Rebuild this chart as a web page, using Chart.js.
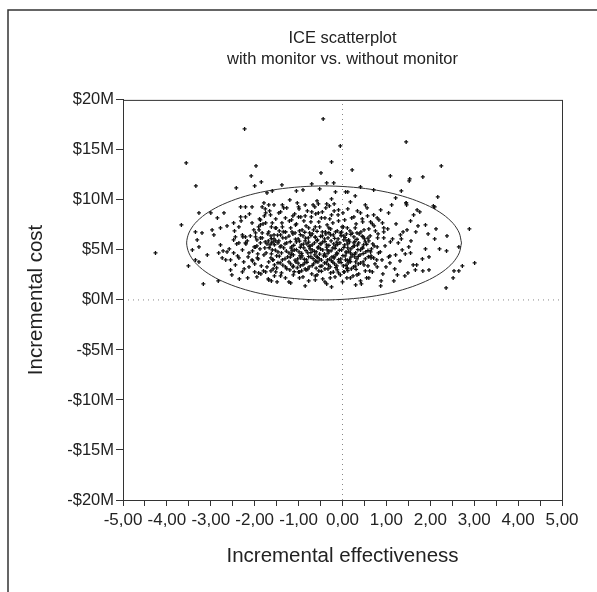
<!DOCTYPE html>
<html lang="en">
<head>
    <meta charset="UTF-8">
    <title>ICE scatterplot</title>
    <script src="https://cdn.jsdelivr.net/npm/chart.js"></script>
    <style>
        html, body { margin: 0; padding: 0; background: #fff; }
        #wrap { width: 597px; height: 592px; }
    </style>
</head>
<body>

<div id="wrap"><canvas id="iceChart" width="597" height="592"></canvas></div>

<script>
    // incremental effectiveness / incremental cost ($M)
    const effX = [
        // outliers above and around the ellipse
        -2.23, -0.44, -0.05, -3.56, -1.97, -0.25, -2.08, -1.85, -0.49, -3.34, -2.42, -2.00, -1.38, -0.70, -0.36, -0.20,
        -0.90, -1.05, -0.52, -1.60, -1.72, -0.16,
        1.45, 2.25, 0.22, 1.09, 1.52, 1.53, 1.83, 1.34, 2.17, 0.29, 0.07, 0.12, 1.21, 1.45, 1.46, 2.10, 0.41, 0.71,
        -4.26, -3.67, -3.51, -3.17, -2.83, -2.35,
        2.89, 3.01, 2.73, 2.54, 2.65, 2.52, 2.36, 0.87, 1.17, 0.43, 2.07,
        // right half
        2.65, 2.38, 2.13, 2.10, 2.37, 2.21, 1.95, 1.89, 1.97, 1.82, 1.69, 1.97, 1.83, 1.66, 1.42, 1.25,
        1.12, 1.45, 1.70, 1.76, 1.62, 1.55, 1.72, 1.67, 1.89, 1.47, 1.32, 1.34, 1.09, 0.94, 0.94, 0.94,
        1.36, 1.51, 1.55, 1.21, 1.05, 1.08, 0.90, 0.71, 0.79, 0.68, 0.60, 0.33, 0.18,
        0.41, 0.56, 0.71, 0.26, 0.52, 0.87, 1.05, 0.83, 0.64, 0.49, 0.33, 0.11, 0.03, 0.26, 0.45, 0.64,
        0.79, 0.18, 0.07, 0.30, 0.49, 0.11,
        // left half
        -3.27, -3.00, -2.70, -2.85, -3.35, -3.20, -2.97, -2.78, -2.93, -3.31, -3.42, -3.27, -3.35, -3.27,
        -3.08, -2.78, -2.82, -2.74, -2.66, -2.55, -2.55, -2.44, -2.63, -2.48, -2.48, -2.48, -2.36, -2.32,
        -2.21, -2.32, -2.21, -2.06, -2.28, -2.21, -2.44, -2.36, -2.21, -2.28, -2.13, -2.36, -2.25, -2.13,
        -2.28, -2.06, -2.02, -1.91, -1.87, -1.83, -1.79, -1.68, -1.56, -1.37, -1.34, -1.03, -1.00, -0.85,
        -0.67, -0.55, -0.36, -0.30, -0.19, -1.75, -1.64, -1.45, -1.30, -1.13, -1.00, -0.85, -0.70, -0.55,
        -0.40, -0.25, -0.09, -1.87, -1.75, -1.60, -1.53, -1.83, -1.68, -1.56, -1.37, -1.30, -1.15, -1.07,
        -0.92, -0.77, -0.62, -0.46, -0.31, -0.16, -0.01,
        -1.75, -1.63, -1.52, -1.68, -1.49, -1.22, -1.13, -0.98, -0.83, -0.62, -0.40, -0.28, -0.09, 0.03,
        -2.00, -1.91, -2.06, -1.94, -1.98, -1.87, -1.98, -1.87,
        // dense core
        -1.52, -1.21, -0.95, -0.72, -0.48, -0.22, 0.05, 0.31, -1.78, -0.61, -0.10, 0.45, -1.05, -0.35, -1.38,
        -1.90, -1.62, -1.44, -1.18, -0.98, -0.83, -0.66, -0.52, -0.39, -0.27, -0.12, 0.02, 0.17, 0.29, 0.42,
        0.60, -1.30, -0.75, -0.05, 0.75,
        -2.10, -1.83, -1.70, -1.56, -1.41, -1.29, -1.13, -1.01, -0.90, -0.78, -0.69, -0.57, -0.46, -0.33,
        -0.21, -0.10, 0.03, 0.14, 0.26, 0.38, 0.50, 0.63, 0.80, -1.95, -0.62, -0.38, 0.09,
        -2.20, -1.95, -1.76, -1.65, -1.52, -1.40, -1.27, -1.16, -1.05, -0.94, -0.85, -0.74, -0.64, -0.55,
        -0.45, -0.36, -0.26, -0.16, -0.06, 0.05, 0.16, 0.27, 0.37, 0.48, 0.60, 0.72, -1.69, -1.62, -1.72,
        -1.58, -0.81, -0.49, -0.20,
        -2.05, -1.88, -1.74, -1.60, -1.47, -1.34, -1.22, -1.10, -0.99, -0.88, -0.79, -0.69, -0.60, -0.50,
        -0.41, -0.31, -0.22, -0.13, -0.02, 0.08, 0.19, 0.30, 0.41, 0.53, 0.66, 0.82, -1.15, -0.74, -0.35, 0.12,
        -2.15, -1.92, -1.79, -1.63, -1.50, -1.37, -1.25, -1.12, -1.02, -0.92, -0.82, -0.72, -0.63, -0.53,
        -0.43, -0.34, -0.24, -0.15, -0.04, 0.06, 0.16, 0.28, 0.40, 0.52, 0.65, 0.78, -0.95, -0.58, -0.19, 0.22,
        -2.00, -1.85, -1.68, -1.55, -1.42, -1.30, -1.18, -1.06, -0.96, -0.86, -0.76, -0.66, -0.56, -0.47,
        -0.37, -0.28, -0.18, -0.08, 0.02, 0.13, 0.25, 0.36, 0.47, 0.58, -1.50, -0.62, -0.25,
        -1.80, -1.58, -1.39, -1.20, -1.00, -0.85, -0.70, -0.54, -0.40, -0.27, -0.12, 0.04, 0.20, 0.37, 0.52,
        -1.12, -0.62, -0.05, -1.30, -0.90, -0.45, 0.10
    ];
    const costY = [
        17.1, 18.1, 15.4, 13.7, 13.4, 13.8, 12.4, 11.8, 12.7, 11.4, 11.2, 11.4, 11.5, 11.6, 11.7, 11.7,
        11.0, 10.9, 11.1, 10.9, 10.7, 10.8,
        15.8, 13.4, 13.0, 12.4, 11.9, 12.1, 12.3, 10.9, 10.3, 10.4, 10.8, 10.8, 10.2, 9.7, 9.5, 9.3, 11.3, 11.0,
        4.7, 7.5, 3.4, 1.6, 1.9, 2.1,
        7.1, 3.7, 3.4, 2.9, 2.9, 2.2, 1.2, 1.4, 1.9, 1.6, 9.4,
        5.3, 6.4, 7.1, 6.1, 4.9, 5.1, 6.6, 5.1, 4.3, 4.1, 3.5, 3.0, 2.9, 3.0, 2.4, 2.5,
        9.5, 9.7, 9.0, 8.8, 8.5, 7.9, 7.4, 6.8, 7.5, 7.0, 6.5, 6.1, 5.8, 6.2, 7.2, 6.8,
        5.0, 5.3, 4.7, 4.5, 4.3, 3.7, 4.0, 4.2, 3.3, 2.8, 2.2, 2.5, 2.2,
        8.7, 9.2, 8.5, 8.3, 9.5, 9.0, 8.7, 8.0, 7.8, 7.0, 6.7, 7.2, 6.0, 5.7, 5.2, 4.8,
        5.3, 4.7, 4.0, 3.8, 3.5, 3.2,
        8.7, 8.7, 8.7, 8.2, 6.8, 6.7, 7.0, 7.2, 6.5, 6.0, 5.0, 5.3, 4.0, 3.8,
        4.5, 5.5, 4.7, 4.2, 4.0, 4.0, 3.0, 3.5, 4.8, 4.7, 6.0, 7.7, 7.3, 8.3,
        8.3, 9.3, 9.3, 9.3, 6.5, 6.3, 6.3, 5.7, 5.7, 5.0, 4.7, 4.2, 3.8, 3.3,
        2.8, 7.7, 7.0, 7.3, 8.0, 9.3, 9.7, 9.5, 9.5, 9.5, 9.2, 9.7, 9.3, 9.5,
        9.5, 9.6, 9.6, 9.4, 9.6, 8.7, 8.5, 8.7, 8.2, 8.4, 8.3, 8.4, 8.8, 8.7,
        8.2, 8.5, 9.0, 7.5, 7.7, 7.7, 7.2, 6.7, 6.8, 6.5, 7.3, 6.8, 6.8, 7.5,
        7.0, 7.2, 7.3, 6.8, 7.2, 6.8, 7.3,
        2.8, 2.9, 2.8, 2.0, 1.8, 1.8, 3.3, 2.8, 3.0, 2.0, 1.8, 2.2, 2.7, 2.8,
        2.8, 2.7, 4.0, 4.2, 5.3, 5.7, 6.3, 6.2,
        8.1, 7.9, 8.3, 7.8, 8.2, 7.7, 8.0, 7.6, 8.4, 8.6, 8.5, 8.1, 7.6, 7.5, 7.7,
        7.0, 7.3, 6.9, 7.2, 6.9, 7.4, 7.0, 7.3, 6.8, 7.1, 6.9, 7.3, 6.9, 7.2, 6.8,
        7.1, 6.8, 6.7, 6.7, 6.9,
        6.4, 6.2, 6.6, 6.1, 6.5, 6.2, 6.6, 6.1, 6.4, 6.2, 6.6, 6.0, 6.4, 6.2,
        6.5, 6.1, 6.4, 6.0, 6.3, 6.6, 6.1, 6.4, 6.2, 6.0, 6.3, 6.6, 6.6,
        5.6, 5.4, 5.8, 5.5, 5.9, 5.4, 5.7, 5.3, 5.8, 5.5, 5.9, 5.4, 5.7, 5.3,
        5.8, 5.5, 5.9, 5.4, 5.7, 5.5, 5.8, 5.4, 5.7, 5.5, 5.9, 5.4, 5.9, 5.7, 5.6,
        5.8, 5.6, 5.6, 5.6,
        4.9, 5.1, 4.7, 5.0, 4.8, 5.2, 4.7, 5.0, 4.8, 5.2, 4.7, 5.0, 4.8, 5.1,
        4.6, 4.9, 5.2, 4.7, 5.0, 4.8, 5.1, 4.7, 5.0, 4.8, 5.1, 4.7, 4.9, 5.1, 5.0, 5.2,
        4.3, 4.1, 4.5, 4.2, 4.4, 4.0, 4.3, 4.5, 4.1, 4.4, 4.0, 4.3, 4.5, 4.1,
        4.4, 4.0, 4.3, 4.5, 4.1, 4.4, 4.0, 4.3, 4.5, 4.1, 4.4, 4.0, 4.2, 4.3, 4.2, 4.5,
        3.6, 3.4, 3.8, 3.5, 3.7, 3.3, 3.6, 3.8, 3.4, 3.7, 3.3, 3.6, 3.8, 3.4,
        3.7, 3.3, 3.6, 3.8, 3.4, 3.7, 3.3, 3.6, 3.8, 3.4, 3.2, 3.9, 3.9,
        2.9, 3.1, 2.7, 3.0, 2.8, 3.1, 2.6, 2.9, 3.1, 2.7, 3.0, 2.8, 3.1, 2.6, 2.9,
        2.5, 2.4, 2.5, 2.2, 2.3, 2.1, 2.2
    ];

    // extra points where the cloud is darkest
    const coreX = [
        -1.35, -1.08, -0.86, -0.58, -0.31, -0.02, 0.22,
        -1.48, -1.22, -0.96, -0.72, -0.50, -0.27, -0.03, 0.19, 0.45,
        -1.62, -1.36, -1.07, -0.84, -0.62, -0.41, -0.18, 0.06, 0.33, 0.58,
        -1.45, -1.19, -0.98, -0.77, -0.58, -0.40, -0.13, 0.10, 0.28, 0.52,
        -1.55, -1.31, -1.11, -0.89, -0.69, -0.51, -0.31, -0.11, 0.12, 0.34, 0.55,
        -1.67, -1.42, -1.17, -0.96, -0.76, -0.56, -0.36, -0.17, 0.03, 0.24, 0.46,
        -1.53, -1.28, -1.05, -0.83, -0.64, -0.45, -0.26, -0.07, 0.14, 0.35, 0.58,
        -1.62, -1.39, -1.16, -0.93, -0.72, -0.52, -0.33, -0.12, 0.09, 0.27, 0.47,
        -1.44, -1.19, -0.97, -0.77, -0.57, -0.38, -0.20, 0.01, 0.19, 0.36, 0.59,
        -1.58, -1.31, -1.08, -0.87, -0.67, -0.48, -0.29, -0.09, 0.11, 0.33,
        -1.47, -1.22, -1.01, -0.81, -0.60, -0.41, -0.22, -0.03, 0.18, 0.41,
        -1.36, -1.12, -0.90, -0.69, -0.51, -0.32, -0.13, 0.08, 0.29,
        -1.27, -1.03, -0.79, -0.60, -0.33, -0.15, 0.10, 0.31,
        -1.10, -0.93, -0.48, -0.21, 0.12
    ];
    const coreY = [
        6.81, 6.70, 6.77, 6.86, 6.72, 6.79, 6.68,
        6.48, 6.39, 6.53, 6.44, 6.36, 6.51, 6.42, 6.55, 6.37,
        6.12, 6.21, 6.08, 6.18, 6.25, 6.10, 6.16, 6.23, 6.07, 6.19,
        5.91, 5.82, 5.88, 5.79, 5.93, 5.84, 5.78, 5.90, 5.86, 5.81,
        5.52, 5.61, 5.47, 5.58, 5.50, 5.63, 5.45, 5.56, 5.60, 5.49, 5.57,
        5.22, 5.31, 5.18, 5.27, 5.34, 5.20, 5.29, 5.16, 5.25, 5.32, 5.19,
        4.98, 4.89, 5.02, 4.93, 4.86, 5.00, 4.91, 4.97, 4.88, 5.03, 4.94,
        4.61, 4.70, 4.57, 4.66, 4.73, 4.59, 4.68, 4.62, 4.71, 4.56, 4.64,
        4.38, 4.29, 4.41, 4.33, 4.26, 4.39, 4.31, 4.43, 4.28, 4.36, 4.32,
        4.02, 4.11, 3.98, 4.07, 4.13, 3.99, 4.09, 4.03, 3.96, 4.10,
        3.72, 3.81, 3.68, 3.77, 3.84, 3.70, 3.79, 3.74, 3.82, 3.69,
        3.48, 3.39, 3.52, 3.43, 3.36, 3.50, 3.41, 3.47, 3.38,
        3.12, 3.21, 3.08, 3.18, 3.10, 3.24, 3.14, 3.06,
        2.82, 2.91, 2.87, 2.79, 2.93
    ];

    // the looser ring round the core
    const ringX = [
        -2.58, -2.46, -2.39, -2.31, -2.24, -2.17, -2.12, -2.05, -1.98, -1.93, -1.86, -1.81, -1.77, -1.72, -1.66,
        -1.63, -1.59, -1.55, -1.51, -1.47, -2.52, -2.41, -2.27, -2.16, -2.01, -1.89, -1.76, -1.69, -2.63, -2.72,
        -1.41, -1.27, -1.16, -1.09, -0.99, -0.88, -0.80, -0.71, -0.63, -0.54, -0.46, -0.38, -0.29, -0.19,
        -0.09, 0.01, 0.12, 0.21, 0.34, 0.46, 0.57, 0.68, 0.79, 0.91, -0.25, -0.58, 0.18, -1.20,
        0.62, 0.69, 0.74, 0.81, 0.86, 0.92, 0.97, 1.03, 1.08, 1.14, 1.19, 1.27, 1.31, 1.38, 1.43, 1.49,
        1.56, 1.61, 0.72, 0.99, 1.22, 0.88, 0.55, 0.47, 0.65,
        -1.95, -1.62, -1.41, -1.18, -0.98, -0.77, -0.58, -0.36, -0.17, 0.00, 0.24, 0.41, -0.85, -0.25, 0.30
    ];
    const ringY = [
        5.1, 6.9, 4.4, 7.9, 3.1, 5.9, 8.6, 3.9, 6.7, 4.6, 2.6, 7.6, 5.2, 3.3, 8.9,
        6.4, 4.0, 2.4, 7.2, 5.7, 2.5, 5.6, 6.3, 2.2, 5.3, 8.1, 9.1, 2.1, 7.4, 4.9,
        8.8, 9.2, 8.0, 8.6, 9.1, 7.9, 8.9, 8.3, 9.3, 7.8, 8.8, 9.2, 8.1, 8.9,
        7.9, 8.7, 9.1, 8.2, 8.9, 7.8, 8.4, 7.6, 8.2, 7.7, 10.1, 9.9, 9.8, 10.0,
        2.9, 5.6, 3.6, 6.6, 4.8, 2.6, 5.4, 7.1, 4.4, 6.1, 3.1, 5.7, 3.9, 6.8, 4.6, 2.7,
        5.9, 3.5, 7.4, 3.3, 7.6, 1.9, 2.2, 6.3, 4.2,
        2.3, 1.9, 2.4, 1.7, 2.2, 1.9, 2.5, 1.6, 2.3, 1.8, 2.4, 1.9, 1.4, 1.3, 1.5
    ];

    // 95% ellipse outline
    const ellipseX = [2.71, 2.66, 2.52, 2.29, 1.98, 1.59, 1.15, 0.65, 0.12, -0.42, -0.96, -1.49, -1.99, -2.43, -2.82,
        -3.13, -3.36, -3.50, -3.55, -3.50, -3.36, -3.13, -2.82, -2.43, -1.99, -1.49, -0.96, -0.42, 0.12, 0.65,
        1.15, 1.59, 1.98, 2.29, 2.52, 2.66, 2.71];
    const ellipseY = [5.70, 6.69, 7.65, 8.55, 9.36, 10.07, 10.64, 11.06, 11.31, 11.40, 11.31, 11.06, 10.64, 10.07, 9.36,
        8.55, 7.65, 6.69, 5.70, 4.71, 3.75, 2.85, 2.04, 1.33, 0.76, 0.34, 0.09, 0.00, 0.09, 0.34,
        0.76, 1.33, 2.04, 2.85, 3.75, 4.71, 5.70];

    const xTicks = [-5, -4, -3, -2, -1, 0, 1, 2, 3, 4, 5];
    const yTicks = [-20, -15, -10, -5, 0, 5, 10, 15, 20];
    const legendDot = [{ x: 5.35, y: 19.45 }];

    const FONT = "'Liberation Sans', Arial, sans-serif";
    const INK = '#222';

    const allX = effX.concat(coreX, ringX);
    const allY = costY.concat(coreY, ringY);
    const points = allX.map((x, i) => ({ x: x, y: allY[i] }));
    const ellipse = ellipseX.map((x, i) => ({ x: x, y: ellipseY[i] }));

    const framePlugin = {
        id: 'frame',
        afterDraw(chart) {
            const c = chart.ctx, a = chart.chartArea;
            c.save();
            c.strokeStyle = '#333';
            c.lineWidth = 1;
            c.strokeRect(a.left + 0.5, a.top + 0.5, a.right - a.left, a.bottom - a.top);
            c.lineWidth = 1.5;
            c.beginPath();
            c.moveTo(8, 600);
            c.lineTo(8, 10);
            c.lineTo(600, 10);
            c.stroke();
            c.restore();
        }
    };

    new Chart(document.getElementById('iceChart'), {
        type: 'scatter',
        data: {
            datasets: [
                {
                    data: points,
                    pointStyle: 'cross',
                    pointRadius: 2,
                    borderWidth: 1.3,
                    borderColor: '#111',
                    order: 0
                },
                {
                    type: 'line',
                    data: ellipse,
                    showLine: true,
                    borderColor: '#333',
                    borderWidth: 1,
                    pointRadius: 0,
                    tension: 0.3,
                    fill: false,
                    order: 1
                },
                {
                    type: 'line',
                    data: [{ x: -5, y: 0 }, { x: 5, y: 0 }],
                    borderColor: '#888',
                    borderWidth: 1,
                    borderDash: [1, 4],
                    pointRadius: 0,
                    order: 2
                },
                {
                    type: 'line',
                    data: [{ x: 0, y: -20 }, { x: 0, y: 20 }],
                    borderColor: '#888',
                    borderWidth: 1,
                    borderDash: [1, 4],
                    pointRadius: 0,
                    order: 2
                },
                {
                    data: legendDot,
                    pointStyle: 'circle',
                    pointRadius: 5,
                    backgroundColor: '#000',
                    borderColor: '#000',
                    clip: false,
                    order: 0
                }
            ]
        },
        options: {
            responsive: false,
            animation: false,
            layout: { padding: { left: 0, right: 35, top: 0, bottom: 0 } },
            plugins: {
                legend: { display: false },
                tooltip: { enabled: false },
                title: {
                    display: true,
                    fullSize: false,
                    text: ['ICE scatterplot', 'with monitor vs. without monitor'],
                    color: INK,
                    font: { family: FONT, size: 16.5, weight: 'normal', lineHeight: 1.33 },
                    padding: { top: 27, bottom: 29 }
                }
            },
            scales: {
                x: {
                    type: 'linear',
                    min: -5,
                    max: 5,
                    afterFit(scale) { scale.height = 92; },
                    afterBuildTicks(scale) {
                        const t = [];
                        xTicks.forEach((v, i) => {
                            t.push({ value: v });
                            if (i < xTicks.length - 1) t.push({ value: v + 0.5 });
                        });
                        scale.ticks = t;
                    },
                    ticks: {
                        autoSkip: false,
                        maxRotation: 0,
                        minRotation: 0,
                        padding: 4,
                        color: INK,
                        font: { family: FONT, size: 17 },
                        callback: (v) => xTicks.includes(v) ? v.toFixed(2).replace('.', ',').replace('-0,00', '0,00') : ''
                    },
                    grid: { drawOnChartArea: false, drawTicks: true, tickLength: 6, color: '#333' },
                    border: { display: true, color: '#333', width: 1 },
                    title: {
                        display: true,
                        text: 'Incremental effectiveness',
                        color: INK,
                        font: { family: FONT, size: 20.5 },
                        padding: { top: 0, bottom: 23 }
                    }
                },
                y: {
                    type: 'linear',
                    min: -20,
                    max: 20,
                    afterFit(scale) { scale.width = 123; },
                    afterBuildTicks(scale) { scale.ticks = yTicks.map(v => ({ value: v })); },
                    ticks: {
                        padding: 2,
                        color: INK,
                        font: { family: FONT, size: 16.5 },
                        callback: (v) => (v < 0 ? '-$' + (-v) : '$' + v) + 'M'
                    },
                    grid: { drawOnChartArea: false, drawTicks: true, tickLength: 7, color: '#333' },
                    border: { display: true, color: '#333', width: 1 },
                    title: {
                        display: true,
                        text: 'Incremental cost',
                        color: INK,
                        font: { family: FONT, size: 20.5 },
                        padding: { top: 24, bottom: 0 }
                    }
                }
            }
        },
        plugins: [framePlugin]
    });
</script>

</body>
</html>
